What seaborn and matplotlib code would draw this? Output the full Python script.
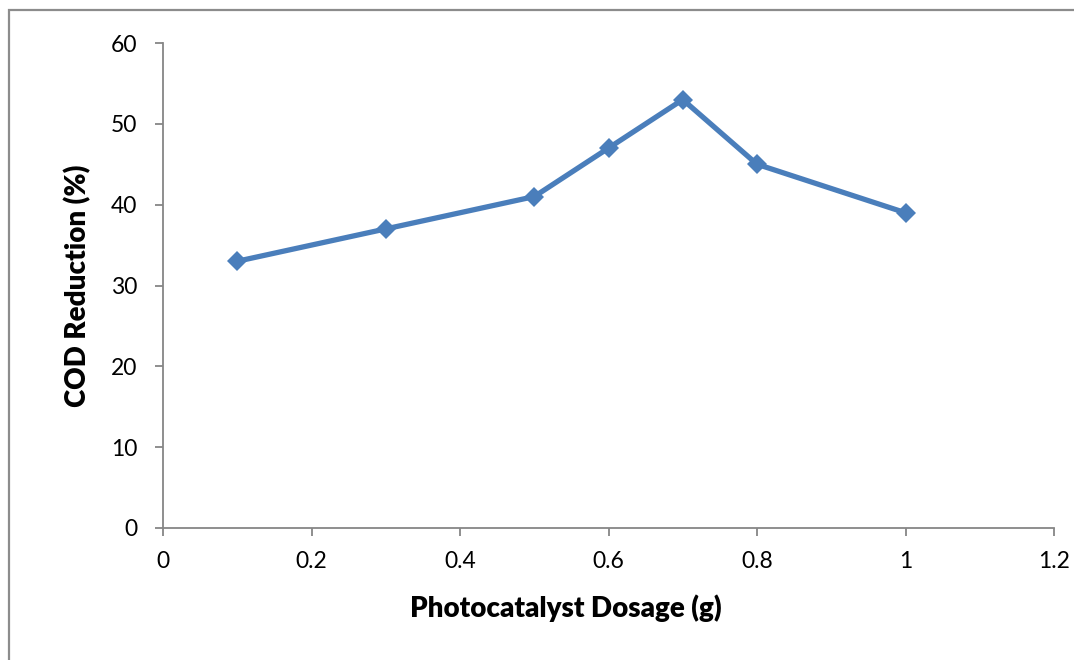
import matplotlib
matplotlib.use("Agg")
import matplotlib.pyplot as plt
import seaborn as sns
import pandas as pd
from matplotlib.patches import Rectangle

dosage = [0.1, 0.3, 0.5, 0.6, 0.7, 0.8, 1.0]
cod_reduction = [33, 37, 41, 47, 53, 45, 39]
x_ticks = [0, 0.2, 0.4, 0.6, 0.8, 1, 1.2]
x_tick_labels = ["0", "0.2", "0.4", "0.6", "0.8", "1", "1.2"]
y_ticks = [0, 10, 20, 30, 40, 50, 60]

sns.set_theme(style="white")
plt.rcParams['font.family'] = ['Lato', 'DejaVu Sans']

df = pd.DataFrame({"x": dosage, "y": cod_reduction})

fig = plt.figure(figsize=(10.74, 6.6), dpi=100)
ax = fig.add_axes([163/1074, 1 - 528/660, (1054-163)/1074, (528-43)/660])

sns.lineplot(data=df, x="x", y="y", ax=ax, color="#4a7ebb", linewidth=3.8,
             marker="D", markersize=10.5, markeredgewidth=0, legend=False)

ax.set_xlim(0, 1.2)
ax.set_ylim(0, 60)
ax.set_xticks(x_ticks)
ax.set_xticklabels(x_tick_labels)
ax.set_yticks(y_ticks)

for s in ["top", "right"]:
    ax.spines[s].set_visible(False)
for s in ["left", "bottom"]:
    ax.spines[s].set_color("#868686")
    ax.spines[s].set_linewidth(1.3)

ax.tick_params(axis="both", which="major", direction="out", length=5.5, width=1.3,
               color="#868686", labelsize=16.5, labelcolor="black",
               bottom=True, left=True)
ax.tick_params(axis="x", pad=11)
ax.tick_params(axis="y", pad=13)

ax.set_xlabel("Photocatalyst Dosage (g)", fontsize=20, fontweight="heavy",
              color="black", labelpad=16)
ax.set_ylabel("COD Reduction (%)", fontsize=20, fontweight="heavy",
              color="black", labelpad=14)
ax.xaxis.label.set_x((565.5 - 163) / (1054 - 163))

fig.patches.append(Rectangle((8.5/1074, -0.1), 1.2, 1 - 9.5/660 + 0.1,
                             transform=fig.transFigure, fill=False,
                             edgecolor="#8c8c8c", linewidth=1.6, zorder=10))

fig.savefig("out.png", dpi=100)
